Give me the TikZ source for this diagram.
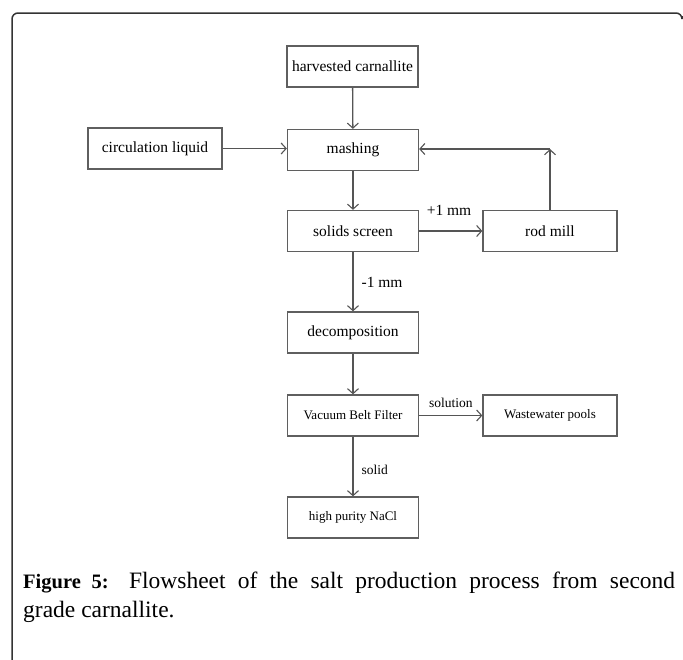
\documentclass[tikz,border=0pt]{standalone}
\usepackage{fontspec}
\setmainfont{Liberation Serif}
\usetikzlibrary{arrows.meta}
\definecolor{boxline}{HTML}{5F5F5F}
\definecolor{arrline}{HTML}{555555}
\definecolor{frameline}{HTML}{333333}
\tikzset{
  box/.style={draw=boxline, line width=1.3pt, minimum width=131pt, minimum height=41pt, inner sep=0pt, font=\fontsize{15.5}{17}\selectfont},
  smallbox/.style={box, font=\fontsize{13}{15}\selectfont},
  flow/.style={draw=arrline, line width=1.3pt, -{Straight Barb[length=5pt,width=11pt,line width=1.1pt]}},
  lbl/.style={inner sep=0pt, font=\fontsize{15.5}{17}\selectfont},
  slbl/.style={inner sep=0pt, font=\fontsize{13.5}{15}\selectfont},
  captext/.style={anchor=base west, inner sep=0pt, font=\fontsize{23.5}{29}\selectfont},
}
\begin{document}
\begin{tikzpicture}[x=1pt, y=-1pt]
\useasboundingbox (0,0) rectangle (683,659);
% frame
\draw[frameline, line width=1.5pt, rounded corners=6pt] (12,660) -- (12,13) -- (682,13) -- (682,16);
% nodes
\node[box] (harv) at (352.5,66.5) {harvested carnallite};
\node[box, minimum width=134pt] (circ) at (155,148.5) {circulation liquid};
\node[box] (mash) at (353,150) {mashing};
\node[box] (screen) at (353,231) {solids screen};
\node[box, minimum width=134pt] (rod) at (550,231) {rod mill};
\node[box] (decomp) at (353,332.5) {decomposition};
\node[smallbox] (vbf) at (353,415.5) {Vacuum Belt Filter};
\node[smallbox, minimum width=134pt] (waste) at (550,415.5) {Wastewater pools};
\node[smallbox] (nacl) at (353,517.5) {high purity NaCl};
\coordinate (corner) at (rod.north |- 0,149);
% connectors
\draw[flow] (harv) -- (mash);
\draw[flow] (circ.east) -- (mash.west |- circ.east);
\draw[flow] (mash) -- (screen);
\draw[flow] (screen) -- (rod);
\draw[flow] (rod.north) -- (corner);
\draw[flow] (corner) -- (mash.east |- corner);
\draw[flow] (screen) -- node[lbl, anchor=west, xshift=8pt, yshift=-1pt] {-1 mm} (decomp);
\draw[flow] (decomp) -- (vbf);
\draw[flow] (vbf) -- node[slbl, above, yshift=7pt] {solution} (waste);
\draw[flow] (vbf) -- node[slbl, anchor=west, xshift=8pt, yshift=-3pt] {solid} (nacl);
\node[lbl] (plus) at (449,210) {+1 mm};
% caption
\node[captext] (cap1) at (23,588)
  {\makebox[652pt][s]{{\fontsize{20.5}{29}\selectfont\bfseries Figure 5:} Flowsheet of the salt production process from second}};
\node[captext] (cap2) at (23,617) {grade carnallite.};
\end{tikzpicture}
\end{document}
